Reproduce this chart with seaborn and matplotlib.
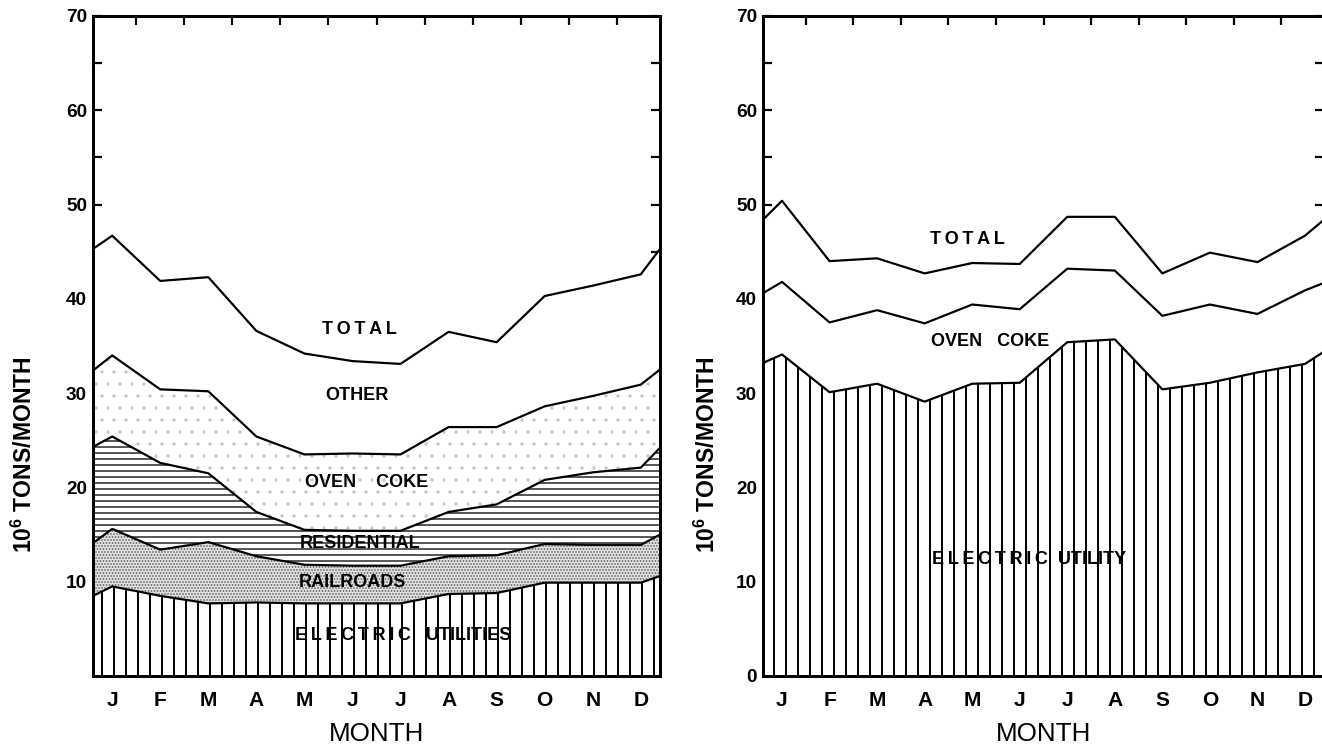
import matplotlib
matplotlib.use("Agg")
import matplotlib.pyplot as plt
import numpy as np
import pandas as pd
import seaborn as sns

sns.set_style("ticks")
plt.rcParams["font.family"] = ["Liberation Sans", "DejaVu Sans"]
plt.rcParams.update({
    "mathtext.fontset": "custom",
    "mathtext.rm": "Liberation Sans",
    "mathtext.bf": "Liberation Sans:bold",
    "hatch.linewidth": 1.6,
    "text.color": "black",
    "axes.labelcolor": "black",
    "axes.edgecolor": "black",
    "xtick.color": "black",
    "ytick.color": "black",
})

months = ["J", "F", "M", "A", "M", "J", "J", "A", "S", "O", "N", "D"]

# every series: value at the left edge, Jan .. Dec, value at the right edge
# left panel (10^6 tons / month, stacked components)
left_electric = [8.5, 9.5, 8.5, 7.7, 7.8, 7.7, 7.7, 7.7, 8.7, 8.8, 9.9, 9.9, 9.9, 10.6]
left_railroads = [5.6, 6.1, 4.9, 6.5, 4.9, 4.1, 4.0, 4.0, 4.0, 4.0, 4.1, 4.0, 4.0, 4.4]
left_residential = [10.2, 9.8, 9.2, 7.3, 4.7, 3.7, 3.7, 3.7, 4.7, 5.4, 6.8, 7.7, 8.2, 9.2]
left_oven_coke = [8.1, 8.6, 7.8, 8.7, 8.0, 8.0, 8.2, 8.1, 9.0, 8.2, 7.8, 8.1, 8.8, 8.3]
left_other = [12.9, 12.7, 11.5, 12.1, 11.2, 10.7, 9.8, 9.6, 10.1, 9.0, 11.7, 11.7, 11.7, 12.8]

# right panel
right_electric = [33.2, 34.1, 30.1, 31.0, 29.1, 31.0, 31.1, 35.4, 35.7, 30.4, 31.1, 32.2, 33.1, 34.4]
right_oven_coke = [7.4, 7.7, 7.4, 7.8, 8.3, 8.4, 7.8, 7.8, 7.3, 7.8, 8.3, 6.2, 7.8, 7.3]
right_other = [7.8, 8.6, 6.5, 5.5, 5.3, 4.4, 4.8, 5.5, 5.7, 4.5, 5.5, 5.5, 5.8, 6.7]

XLIM = (-0.4, 11.4)
x = np.r_[XLIM[0], np.arange(12), XLIM[1]]

STYLES = {
    "electric": dict(facecolor="white", edgecolor="black", hatch="|", hlw=2.0),
    "railroads": dict(facecolor="#e0e0e0", edgecolor="#555555", hatch="....", hlw=1.0),
    "residential": dict(facecolor="white", edgecolor="black", hatch="--", hlw=1.3),
    "coke_dots": dict(facecolor="white", edgecolor="#c4c4c4", hatch=".", hlw=0.8),
    "plain": dict(facecolor="white", edgecolor="white", hatch=None, hlw=1.0),
}

TS = "\u2009"  # thin space, used for the letter-spaced words


def spaced(word):
    return TS.join(word)


def draw_panel(ax, layers, labels, zero_label):
    base = np.zeros(len(x))
    rows = []
    for name, vals, style in layers:
        top = base + np.asarray(vals)
        st = STYLES[style]
        coll = ax.fill_between(x, base, top, facecolor=st["facecolor"],
                               edgecolor=st["edgecolor"], hatch=st["hatch"],
                               linewidth=0)
        if hasattr(coll, "set_hatch_linewidth"):
            coll.set_hatch_linewidth(st["hlw"])
        rows.append(pd.DataFrame({"x": x, "level": top, "boundary": name}))
        base = top
    df = pd.concat(rows, ignore_index=True)
    sns.lineplot(data=df, x="x", y="level", units="boundary", estimator=None,
                 sort=False, color="black", linewidth=2.2, legend=False, ax=ax)

    for txt, tx, ty in labels:
        ax.text(tx, ty, txt, ha="center", va="center", fontsize=18,
                fontweight="bold", color="black", zorder=5)

    ax.set_xlim(*XLIM)
    ax.set_ylim(0, 70)
    ax.set_xticks(np.arange(12))
    ax.set_xticklabels(months)
    ax.set_xticks(np.arange(0.5, 11), minor=True)
    ax.set_yticks(np.arange(0, 71, 10))
    ax.set_yticklabels([("0" if zero_label else "") if v == 0 else str(v)
                        for v in range(0, 71, 10)])
    ax.set_yticks(np.arange(5, 70, 10), minor=True)

    ax.tick_params(axis="x", which="major", length=0, pad=15, labelsize=21)
    ax.tick_params(axis="x", which="minor", bottom=False, top=True,
                   direction="in", length=9, width=2.2)
    ax.tick_params(axis="y", which="both", left=True, right=True,
                   direction="in", length=9, width=2.2, pad=6, labelsize=19)
    for lab in ax.get_xticklabels() + ax.get_yticklabels():
        lab.set_fontweight("bold")
    for sp in ax.spines.values():
        sp.set_visible(True)
        sp.set_linewidth(3)
        sp.set_zorder(6)

    ax.set_xlabel("MONTH", fontsize=26, fontweight="normal")
    ax.xaxis.set_label_coords(0.5, -0.07)
    ax.set_ylabel(r"$\mathbf{10^6}$ TONS/MONTH", fontsize=23, fontweight="bold")


fig = plt.figure(figsize=(1322 / 72, 751 / 72), dpi=72)
ax1 = fig.add_axes([93 / 1322, 75 / 751, 567 / 1322, 660 / 751])
ax2 = fig.add_axes([763 / 1322, 75 / 751, 561 / 1322, 660 / 751])

draw_panel(
    ax1,
    [("electric", left_electric, "electric"),
     ("railroads", left_railroads, "railroads"),
     ("residential", left_residential, "residential"),
     ("oven coke", left_oven_coke, "coke_dots"),
     ("other", left_other, "plain")],
    [(spaced("TOTAL"), 5.15, 36.8), ("OTHER", 5.1, 29.8), ("OVEN    COKE", 5.3, 20.5),
     ("RESIDENTIAL", 5.15, 14.0), ("RAILROADS", 5.0, 9.9),
     (spaced("ELECTRIC") + "   UTILITIES", 6.05, 4.3)],
    zero_label=False,
)
ax1.yaxis.set_label_coords(-0.099, 0.335)

draw_panel(
    ax2,
    [("electric", right_electric, "electric"),
     ("oven coke", right_oven_coke, "plain"),
     ("other", right_other, "plain")],
    [(spaced("TOTAL"), 3.9, 46.3), ("OVEN   COKE", 4.37, 35.5),
     (spaced("ELECTRIC") + "  UTILITY", 5.2, 12.4)],
    zero_label=True,
)
ax2.yaxis.set_label_coords(-0.077, 0.335)

fig.savefig("out.png", dpi=72, facecolor="white")
